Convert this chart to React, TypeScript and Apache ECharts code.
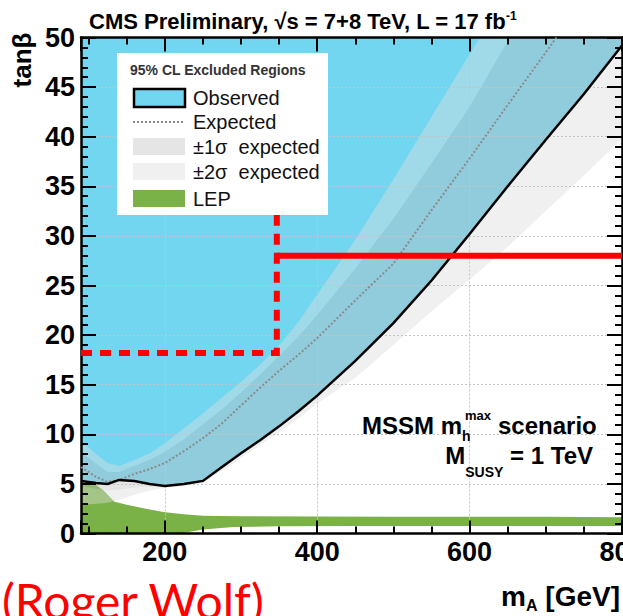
import React, { useEffect, useRef } from 'react';
import * as echarts from 'echarts';

// ---------- axis ranges & ticks ----------
const X_MIN = 90;
const X_MAX = 800;
const Y_MIN = 0;
const Y_MAX = 50;
const xLabelStep = 200;

// ---------- data: [mA (GeV), tan(beta)] ----------
const observed: [number, number][] = [
  [90, 5.3], [110, 5.1], [125, 5.0], [140, 5.4], [160, 5.3], [180, 5.0], [200, 4.8],
  [225, 5.0], [250, 5.3], [275, 6.7], [300, 8.1], [325, 9.4], [350, 10.8], [375, 12.3],
  [400, 13.9], [450, 17.4], [500, 21.2], [550, 25.5], [600, 30.2], [650, 35.0],
  [700, 39.7], [750, 44.3], [800, 49.2],
];

const expected: [number, number][] = [
  [90, 6.7], [110, 5.7], [125, 5.2], [140, 5.4], [160, 6.0], [180, 6.5], [200, 7.1],
  [225, 8.3], [250, 9.6], [275, 11.1], [300, 12.9], [325, 14.7], [350, 16.4], [375, 18.0],
  [400, 19.7], [450, 23.5], [500, 27.2], [550, 32.6], [600, 37.8], [650, 43.2],
  [700, 48.5], [714, 50],
];

const plus2sigma: [number, number][] = [
  [90, 9.4], [110, 8.0], [125, 7.1], [140, 6.8], [160, 7.4], [180, 8.1], [200, 9.1],
  [225, 10.6], [250, 12.1], [275, 13.7], [300, 15.3], [325, 17.0], [350, 19.0], [375, 21.3],
  [400, 24.1], [450, 29.6], [500, 35.7], [550, 42.0], [600, 48.3], [614, 50],
];

const plus1sigma: [number, number][] = [
  [90, 8.2], [110, 7.0], [125, 6.2], [140, 6.2], [160, 6.8], [180, 7.4], [200, 8.2],
  [225, 9.5], [250, 11.0], [275, 12.5], [300, 14.2], [325, 16.0], [350, 17.9], [375, 19.8],
  [400, 22.0], [450, 26.7], [500, 31.7], [550, 37.3], [600, 43.0], [650, 49.6], [653, 50],
];

const minus1sigma: [number, number][] = [
  [90, 4.8], [110, 4.5], [125, 4.3], [140, 4.4], [160, 4.6], [180, 4.7], [200, 4.8],
  [225, 4.9], [250, 5.2], [275, 6.6], [300, 8.0], [325, 9.3], [350, 10.7], [375, 12.2],
  [400, 13.8], [450, 17.2], [500, 21.0], [550, 25.3], [600, 30.0], [650, 34.8],
  [700, 39.5], [750, 44.1], [800, 49.0],
];

const minus2sigma: [number, number][] = [
  [90, 2.9], [110, 3.0], [125, 3.1], [140, 3.4], [160, 3.9], [180, 4.3], [200, 4.6],
  [225, 4.8], [250, 5.1], [275, 6.3], [300, 7.6], [325, 8.9], [350, 10.2], [375, 11.6],
  [400, 13.1], [450, 15.7], [500, 19.0], [550, 22.4], [600, 25.6], [650, 28.9],
  [700, 32.5], [750, 36.1], [800, 39.8],
];

const lepUpper: [number, number][] = [
  [90, 5.1], [110, 4.9], [120, 4.3], [134, 3.2], [150, 2.9], [175, 2.5], [200, 2.15],
  [225, 1.95], [250, 1.8], [300, 1.75], [400, 1.72], [500, 1.7], [600, 1.7], [700, 1.68],
  [800, 1.65],
];
const lepLower: [number, number][] = [
  [90, 0], [220, 0], [250, 0.4], [290, 0.65], [350, 0.72], [450, 0.75], [800, 0.75],
];

// red annotation lines
const redDashed: [number, number][] = [[90, 18.2], [347, 18.2], [347, 32.2]];
const redSolid: [number, number][] = [[347, 28.0], [800, 28.0]];

// ---------- styles ----------
const FONT = "'Liberation Sans', Arial, Helvetica, sans-serif";
const CYAN = '#72d6f0';
const GREEN = '#7ab248';
const SIG2 = 'rgba(220,220,220,0.43)';
const SIG1 = 'rgba(190,190,190,0.40)';

const rev = (a: [number, number][]) => a.slice().reverse();

function areaSeries(name: string, pts: [number, number][], fill: string, z: number) {
  return {
    type: 'custom',
    name,
    z,
    silent: true,
    clip: true,
    coordinateSystem: 'cartesian2d',
    xAxisIndex: 0,
    yAxisIndex: 0,
    data: [pts[0]],
    renderItem: (_params: any, api: any) => ({
      type: 'polygon',
      shape: { points: pts.map((p) => api.coord(p)) },
      style: { fill, stroke: null, lineWidth: 0 },
    }),
  };
}

function lineSeries(name: string, pts: [number, number][], color: string, width: number, type: any, z: number) {
  return {
    type: 'line',
    name,
    data: pts,
    z,
    silent: true,
    symbol: 'none',
    xAxisIndex: 0,
    yAxisIndex: 0,
    lineStyle: { color, width, type, cap: 'butt', join: 'miter' },
  };
}

const tickLine = { color: '#000', width: 2 };

const option: any = {
  animation: false,
  backgroundColor: '#fff',
  textStyle: { fontFamily: FONT },
  grid: { left: 81, top: 37.5, width: 541, height: 496, containLabel: false, outerBoundsMode: 'none' },
  xAxis: [
    {
      type: 'value', min: X_MIN, max: X_MAX, splitNumber: 3, position: 'bottom', z: 6,
      axisLine: { show: true, onZero: false, lineStyle: { color: '#000', width: 2.5 } },
      axisTick: { show: true, inside: true, length: 13, lineStyle: tickLine },
      minorTick: { show: true, splitNumber: 4, length: 7, lineStyle: tickLine },
      axisLabel: {
        show: true, margin: 5, color: '#000', fontFamily: FONT, fontSize: 27, fontWeight: 'bold',
        hideOverlap: false,
        formatter: (v: number) => (v % xLabelStep === 0 ? String(v) : ''),
      },
      splitLine: { show: true, lineStyle: { color: '#c4c4c4', type: [2, 2], width: 1 } },
    },
    {
      type: 'value', min: X_MIN, max: X_MAX, splitNumber: 3, position: 'top', z: 6,
      axisLine: { show: true, onZero: false, lineStyle: { color: '#000', width: 2.5 } },
      axisTick: { show: true, inside: true, length: 14, lineStyle: tickLine },
      minorTick: { show: true, splitNumber: 4, length: 7, lineStyle: tickLine },
      axisLabel: { show: false },
      splitLine: { show: false },
    },
  ],
  yAxis: [
    {
      type: 'value', min: Y_MIN, max: Y_MAX, interval: 5, position: 'left', z: 6,
      axisLine: { show: true, onZero: false, lineStyle: { color: '#000', width: 2.5 } },
      axisTick: { show: true, inside: true, length: 15, lineStyle: tickLine },
      minorTick: { show: true, splitNumber: 5, length: 7, lineStyle: tickLine },
      axisLabel: { show: true, margin: 6, color: '#000', fontFamily: FONT, fontSize: 27, fontWeight: 'bold' },
      splitLine: { show: true, lineStyle: { color: '#c4c4c4', type: [2, 2], width: 1 } },
    },
    {
      type: 'value', min: Y_MIN, max: Y_MAX, interval: 5, position: 'right', z: 6,
      axisLine: { show: true, onZero: false, lineStyle: { color: '#000', width: 2.5 } },
      axisTick: { show: true, inside: true, length: 15, lineStyle: tickLine },
      minorTick: { show: true, splitNumber: 5, length: 7, lineStyle: tickLine },
      axisLabel: { show: false },
      splitLine: { show: false },
    },
  ],
  series: [
    areaSeries('Observed', [...observed, [X_MAX, Y_MAX], [X_MIN, Y_MAX]], CYAN, 1),
    areaSeries('LEP', [...lepUpper, ...rev(lepLower)], GREEN, 2),
    areaSeries('+2 sigma', [...plus2sigma, ...rev(plus1sigma)], SIG2, 3),
    areaSeries('1 sigma', [...plus1sigma, [X_MAX, Y_MAX], ...rev(minus1sigma)], SIG1, 4),
    areaSeries('-2 sigma', [...minus1sigma, ...rev(minus2sigma)], SIG2, 5),
    lineSeries('Expected', expected, '#8a8a8a', 2, [2, 2], 7),
    lineSeries('Observed line', observed, '#000', 2.5, 'solid', 8),
    lineSeries('Red dashed', redDashed, '#ff0000', 6, [11, 8], 9),
    lineSeries('Red solid', redSolid, '#ff0000', 6, 'solid', 9),
  ],
  graphic: {
    elements: [
      {
        type: 'text', x: 89, y: 21, z: 100, silent: true,
        style: {
          text: '{t|CMS Preliminary, \u221As = 7+8 TeV, L = 17 fb}{s|-1}',
          align: 'left', verticalAlign: 'middle',
          rich: {
            t: { fontFamily: FONT, fontSize: 22, fontWeight: 'bold', lineHeight: 22, fill: '#000' },
            s: { fontFamily: FONT, fontSize: 12, fontWeight: 'bold', verticalAlign: 'top', fill: '#000' },
          },
        },
      },
      {
        type: 'text', x: 22, y: 60, rotation: Math.PI / 2, z: 100, silent: true,
        style: { text: 'tan\u03B2', fontFamily: FONT, fontSize: 26, fontWeight: 'bold', fill: '#000', align: 'center', verticalAlign: 'middle' },
      },
      {
        type: 'text', x: 620, y: 596, z: 100, silent: true,
        style: {
          text: '{m|m}{a|A}{m| [GeV]}',
          align: 'right', verticalAlign: 'middle',
          rich: {
            m: { fontFamily: FONT, fontSize: 28, fontWeight: 'bold', lineHeight: 34, fill: '#000' },
            a: { fontFamily: FONT, fontSize: 16, fontWeight: 'bold', verticalAlign: 'bottom', fill: '#000' },
          },
        },
      },
      {
        type: 'text', x: 2, y: 600, z: 100, silent: true,
        style: { text: '(Roger Wolf)', fontFamily: 'Lato, sans-serif', fontSize: 48, fill: '#ff0000', align: 'left', verticalAlign: 'middle' },
      },
      // MSSM scenario label
      {
        type: 'text', x: 462, y: 425, z: 100, silent: true,
        style: { text: 'MSSM m', fontFamily: FONT, fontSize: 24, fontWeight: 'bold', fill: '#000', align: 'right', verticalAlign: 'middle' },
      },
      {
        type: 'text', x: 462, y: 436, z: 100, silent: true,
        style: { text: 'h', fontFamily: FONT, fontSize: 14, fontWeight: 'bold', fill: '#000', align: 'left', verticalAlign: 'middle' },
      },
      {
        type: 'text', x: 465, y: 415, z: 100, silent: true,
        style: { text: 'max', fontFamily: FONT, fontSize: 13, fontWeight: 'bold', fill: '#000', align: 'left', verticalAlign: 'middle' },
      },
      {
        type: 'text', x: 498, y: 425, z: 100, silent: true,
        style: { text: 'scenario', fontFamily: FONT, fontSize: 24, fontWeight: 'bold', fill: '#000', align: 'left', verticalAlign: 'middle' },
      },
      {
        type: 'text', x: 593, y: 455, z: 100, silent: true,
        style: {
          text: '{b|M}{s|SUSY}{b| = 1 TeV}',
          align: 'right', verticalAlign: 'middle',
          rich: {
            b: { fontFamily: FONT, fontSize: 24, fontWeight: 'bold', lineHeight: 48, fill: '#000' },
            s: { fontFamily: FONT, fontSize: 14, fontWeight: 'bold', verticalAlign: 'bottom', fill: '#000' },
          },
        },
      },
      // Legend box
      {
        type: 'group', z: 100, silent: true,
        children: [
          { type: 'rect', z: 100, shape: { x: 117, y: 53, width: 211, height: 162 }, style: { fill: '#fff', stroke: null } },
          {
            type: 'text', z: 101, x: 130, y: 70,
            style: { text: '95% CL Excluded Regions', fontFamily: FONT, fontSize: 14, fontWeight: 'bold', fill: '#333', align: 'left', verticalAlign: 'middle' },
          },
          { type: 'rect', z: 101, shape: { x: 134, y: 89, width: 51, height: 18 }, style: { fill: CYAN, stroke: '#000', lineWidth: 2.5 } },
          { type: 'text', z: 101, x: 193, y: 98, style: { text: 'Observed', fontFamily: FONT, fontSize: 20, fill: '#111', align: 'left', verticalAlign: 'middle' } },
          { type: 'line', z: 101, shape: { x1: 133, y1: 122, x2: 185, y2: 122 }, style: { stroke: '#8a8a8a', lineWidth: 2, lineDash: [2, 2] } },
          { type: 'text', z: 101, x: 193, y: 122, style: { text: 'Expected', fontFamily: FONT, fontSize: 20, fill: '#111', align: 'left', verticalAlign: 'middle' } },
          { type: 'rect', z: 101, shape: { x: 133, y: 138, width: 52, height: 17 }, style: { fill: '#e5e5e5', stroke: null } },
          { type: 'text', z: 101, x: 193, y: 147, style: { text: '\u00B11\u03C3  expected', fontFamily: FONT, fontSize: 20, fill: '#111', align: 'left', verticalAlign: 'middle' } },
          { type: 'rect', z: 101, shape: { x: 133, y: 163, width: 52, height: 17 }, style: { fill: '#f0f0f0', stroke: null } },
          { type: 'text', z: 101, x: 193, y: 172, style: { text: '\u00B12\u03C3  expected', fontFamily: FONT, fontSize: 20, fill: '#111', align: 'left', verticalAlign: 'middle' } },
          { type: 'rect', z: 101, shape: { x: 133, y: 190, width: 52, height: 17 }, style: { fill: GREEN, stroke: null } },
          { type: 'text', z: 101, x: 193, y: 199, style: { text: 'LEP', fontFamily: FONT, fontSize: 20, fill: '#111', align: 'left', verticalAlign: 'middle' } },
        ],
      },
    ],
  },
};

export default function App() {
  const ref = useRef<HTMLDivElement | null>(null);
  useEffect(() => {
    if (!ref.current) return;
    const chart = echarts.init(ref.current, null, { renderer: 'svg' });
    chart.setOption(option);
    return () => chart.dispose();
  }, []);
  return (
    <div
      ref={ref}
      style={{ position: 'fixed', left: 0, top: 0, width: 623, height: 616, background: '#fff' }}
    />
  );
}
